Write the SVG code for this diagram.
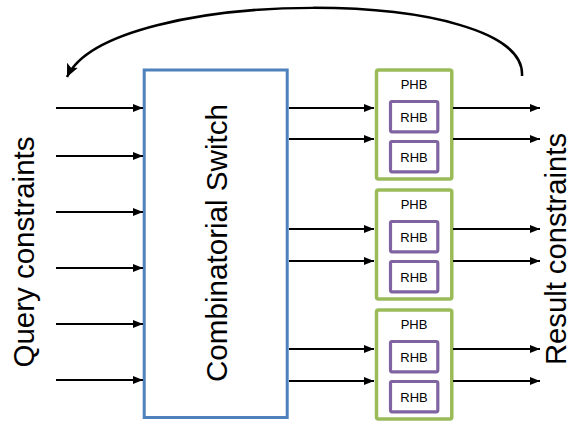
<svg xmlns="http://www.w3.org/2000/svg" width="573" height="427" viewBox="0 0 573 427">
<defs>
<marker id="ah" markerUnits="userSpaceOnUse" markerWidth="12" markerHeight="10" refX="10" refY="4" orient="auto">
<path d="M0,0 L10,4 L0,8 Z" fill="#000"/>
</marker>
<marker id="ah2" markerUnits="userSpaceOnUse" markerWidth="16" markerHeight="14" refX="13" refY="6" orient="auto">
<path d="M0,0 L13,6 L0,12 L3,6 Z" fill="#000"/>
</marker>
</defs>
<style>
.lbl{font-family:"Liberation Sans",Arial,sans-serif;fill:#000}
.big{font-size:29px}
.sm{font-size:13px;text-anchor:middle}
.phb{fill:#fff;stroke:#9BBB59;stroke-width:3.5}
.rhb{fill:#fff;stroke:#8064A2;stroke-width:3.2}
.conn line{stroke:#000;stroke-width:2;marker-end:url(#ah)}
</style>
<rect width="573" height="427" fill="#fff"/>
<g id="switch">
<rect x="144.2" y="70" width="143" height="347.5" fill="#fff" stroke="#4F81BD" stroke-width="3"/>
<text class="lbl big" transform="translate(227,243) rotate(-90)" text-anchor="middle" textLength="278" lengthAdjust="spacingAndGlyphs">Combinatorial Switch</text>
</g>
<g id="query-label">
<text class="lbl big" transform="translate(34,252) rotate(-90)" text-anchor="middle" textLength="231" lengthAdjust="spacingAndGlyphs">Query constraints</text>
</g>
<g id="result-label">
<text class="lbl big" transform="translate(566,249) rotate(-90)" text-anchor="middle" textLength="232" lengthAdjust="spacingAndGlyphs">Result constraints</text>
</g>
<g id="phb1">
<rect class="phb" x="376.5" y="70" width="75.3" height="109" rx="2"/>
<text class="lbl sm" x="414" y="89">PHB</text>
<g id="rhb1a"><rect class="rhb" x="390.5" y="101.5" width="47.3" height="30.3" rx="1.5"/><text class="lbl sm" x="414" y="121.7">RHB</text></g>
<g id="rhb1b"><rect class="rhb" x="390.5" y="141.5" width="47.3" height="30.3" rx="1.5"/><text class="lbl sm" x="414" y="161.5">RHB</text></g>
</g>
<g id="phb2">
<rect class="phb" x="376.5" y="190" width="75.3" height="109" rx="2"/>
<text class="lbl sm" x="414" y="209">PHB</text>
<g id="rhb2a"><rect class="rhb" x="390.5" y="221.5" width="47.3" height="30.3" rx="1.5"/><text class="lbl sm" x="414" y="241.7">RHB</text></g>
<g id="rhb2b"><rect class="rhb" x="390.5" y="261.5" width="47.3" height="30.3" rx="1.5"/><text class="lbl sm" x="414" y="281.5">RHB</text></g>
</g>
<g id="phb3">
<rect class="phb" x="376.5" y="310" width="75.3" height="109" rx="2"/>
<text class="lbl sm" x="414" y="329">PHB</text>
<g id="rhb3a"><rect class="rhb" x="390.5" y="341.5" width="47.3" height="30.3" rx="1.5"/><text class="lbl sm" x="414" y="361.7">RHB</text></g>
<g id="rhb3b"><rect class="rhb" x="390.5" y="381.5" width="47.3" height="30.3" rx="1.5"/><text class="lbl sm" x="414" y="401.5">RHB</text></g>
</g>
<g id="connectors" class="conn">
<line x1="56" y1="108" x2="143" y2="108"/>
<line x1="56" y1="156" x2="143" y2="156"/>
<line x1="56" y1="212" x2="143" y2="212"/>
<line x1="56" y1="268" x2="143" y2="268"/>
<line x1="56" y1="324" x2="143" y2="324"/>
<line x1="56" y1="380" x2="143" y2="380"/>
<line x1="289" y1="108" x2="374" y2="108"/>
<line x1="289" y1="139" x2="374" y2="139"/>
<line x1="289" y1="229" x2="374" y2="229"/>
<line x1="289" y1="261" x2="374" y2="261"/>
<line x1="289" y1="349" x2="374" y2="349"/>
<line x1="289" y1="381" x2="374" y2="381"/>
<line x1="453" y1="108" x2="540" y2="108"/>
<line x1="453" y1="139" x2="540" y2="139"/>
<line x1="453" y1="229" x2="540" y2="229"/>
<line x1="453" y1="261" x2="540" y2="261"/>
<line x1="453" y1="349" x2="540" y2="349"/>
<line x1="453" y1="381" x2="540" y2="381"/>
<path d="M522,76 C528,-15 110,-15 67,77" fill="none" stroke="#000" stroke-width="2.5" marker-end="url(#ah2)"/>
</g>
</svg>
